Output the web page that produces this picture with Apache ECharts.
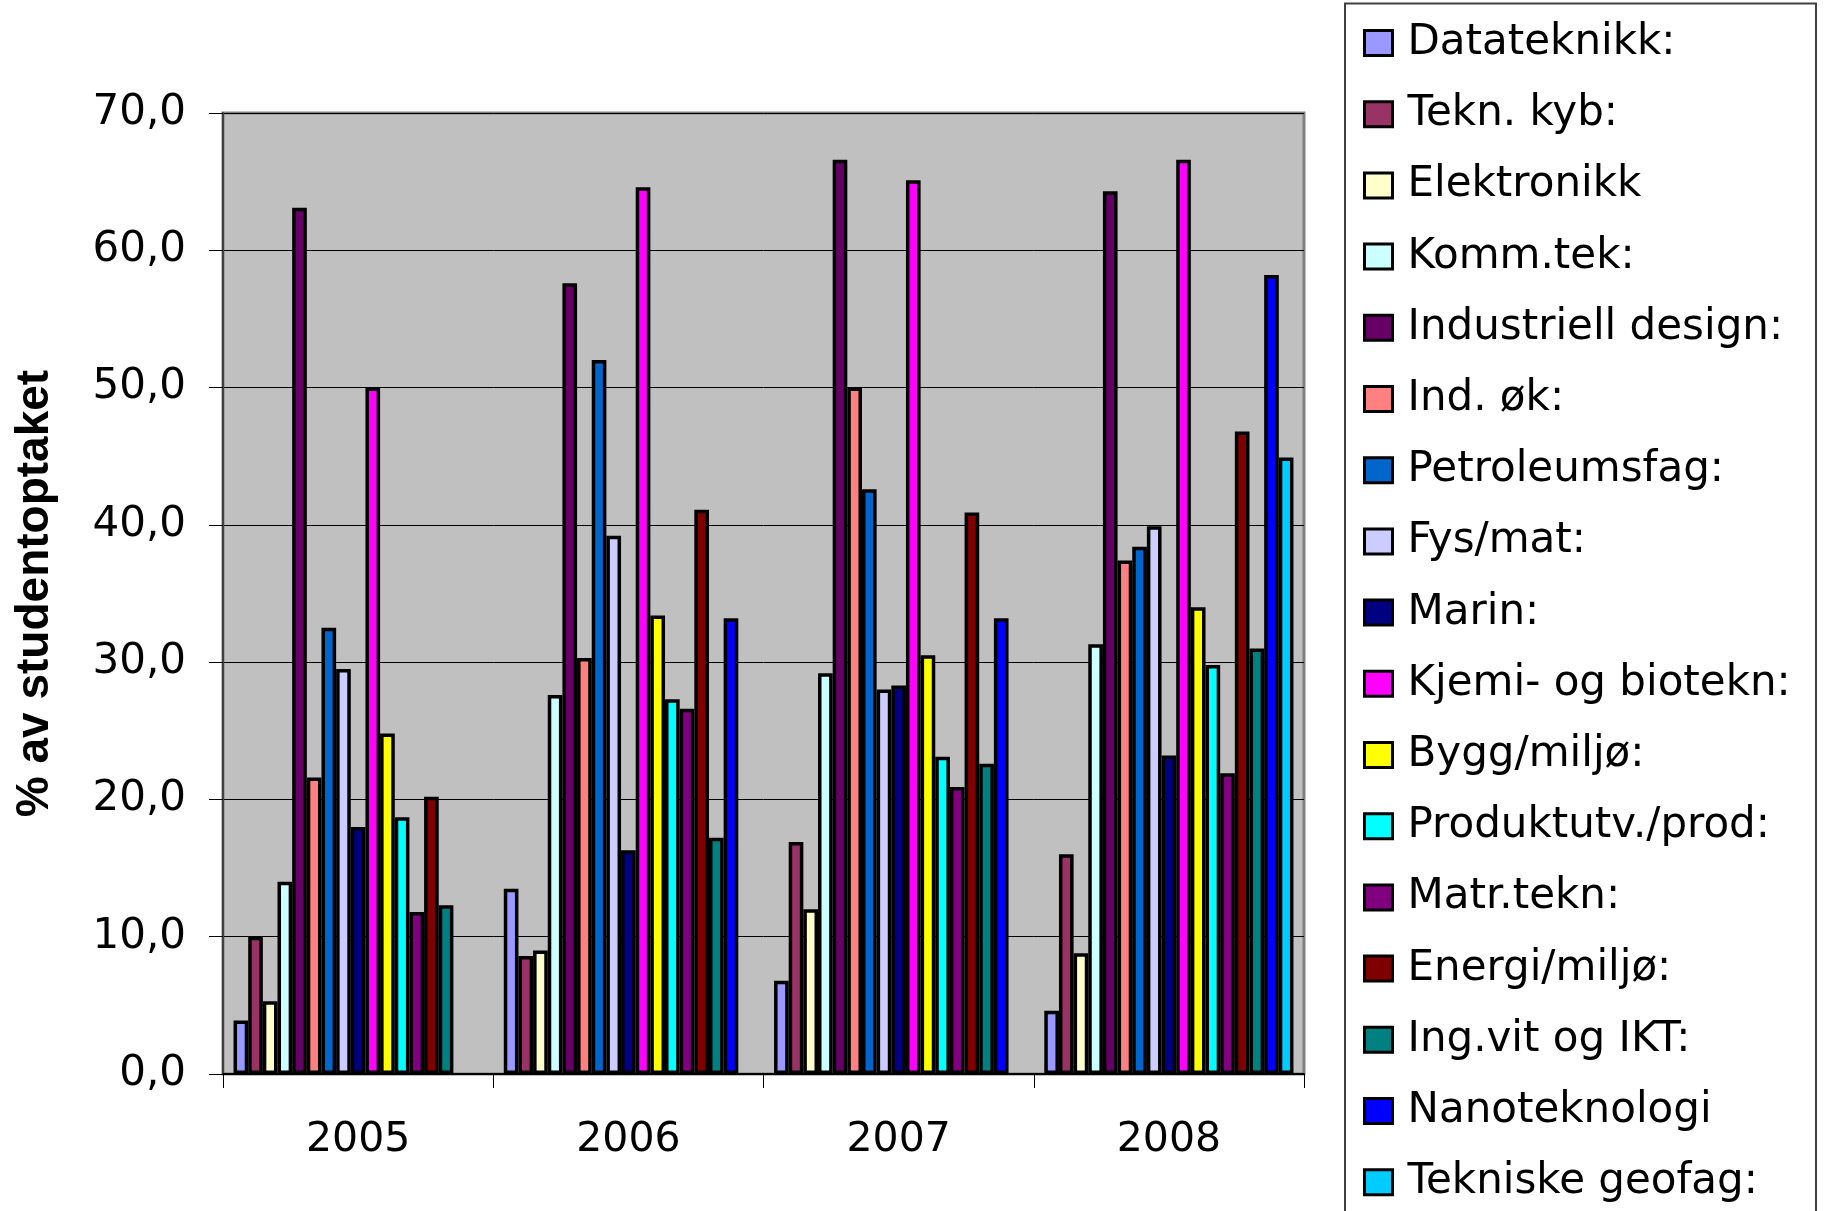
<!DOCTYPE html>
<html>
<head>
<meta charset="utf-8">
<script src="https://cdn.jsdelivr.net/npm/echarts@6/dist/echarts.min.js"></script>
<style>
html,body{margin:0;padding:0;background:#fff;}
#chart{width:1825px;height:1211px;}
</style>
</head>
<body>
<div id="chart"></div>
<script>
const categories = ['2005', '2006', '2007', '2008'];

const seriesNames = [
  'Datateknikk:', 'Tekn. kyb:', 'Elektronikk', 'Komm.tek:', 'Industriell design:',
  'Ind. øk:', 'Petroleumsfag:', 'Fys/mat:', 'Marin:', 'Kjemi- og biotekn:',
  'Bygg/miljø:', 'Produktutv./prod:', 'Matr.tekn:', 'Energi/miljø:', 'Ing.vit og IKT:',
  'Nanoteknologi', 'Tekniske geofag:'
];

const seriesColors = [
  '#9999FF', '#993366', '#FFFFCC', '#CCFFFF', '#660066',
  '#FF8080', '#0066CC', '#CCCCFF', '#000080', '#FF00FF',
  '#FFFF00', '#00FFFF', '#800080', '#800000', '#008080',
  '#0000FF', '#00CCFF'
];

// values per series, for 2005, 2006, 2007, 2008 (null = no bar)
const datateknikk   = [3.9, 13.5, 6.8, 4.6];
const teknKyb       = [10.0, 8.6, 16.9, 16.0];
const elektronikk   = [5.3, 9.0, 12.0, 8.8];
const kommTek       = [14.0, 27.6, 29.2, 31.3];
const industDesign  = [63.1, 57.6, 66.6, 64.3];
const indOk         = [21.6, 30.3, 50.0, 37.4];
const petroleum     = [32.5, 52.0, 42.6, 38.4];
const fysMat        = [29.5, 39.2, 28.0, 39.9];
const marin         = [18.0, 16.3, 28.3, 23.2];
const kjemi         = [50.0, 64.6, 65.1, 66.6];
const byggMiljo     = [24.8, 33.4, 30.5, 34.0];
const produktutv    = [18.7, 27.3, 23.1, 29.8];
const matrTekn      = [11.8, 26.6, 20.9, 21.9];
const energiMiljo   = [20.2, 41.1, 40.9, 46.8];
const ingVitIkt     = [12.3, 17.2, 22.6, 31.0];
const nanoteknologi = [null, 33.2, 33.2, 58.2];
const tekGeofag     = [null, null, null, 44.9];

const yTickValues = [0, 10, 20, 30, 40, 50, 60, 70];

const seriesValues = [
  datateknikk, teknKyb, elektronikk, kommTek, industDesign,
  indOk, petroleum, fysMat, marin, kjemi,
  byggMiljo, produktutv, matrTekn, energiMiljo, ingVitIkt,
  nanoteknologi, tekGeofag
];

const chart = echarts.init(document.getElementById('chart'), null, {renderer: 'canvas'});

const series = seriesNames.map((name, i) => ({
  name: name,
  type: 'bar',
  data: seriesValues[i].map(v => (v === null ? '-' : v)),
  barGap: '0%',
  barCategoryGap: '7.8%',
  itemStyle: {color: seriesColors[i], borderColor: '#000', borderWidth: 3.5},
  emphasis: {disabled: true}
}));

const option = {
  animation: false,
  backgroundColor: '#ffffff',
  grid: {
    left: 223, top: 113, width: 1081, height: 961,
    outerBoundsMode: 'none',
    containLabel: false,
    show: true, backgroundColor: '#C0C0C0', borderColor: '#808080', borderWidth: 3
  },
  xAxis: {
    type: 'category',
    data: categories,
    axisLine: {show: true, lineStyle: {color: '#000', width: 2}},
    axisTick: {show: true, length: 14, lineStyle: {color: '#000', width: 1}},
    axisLabel: {
      margin: 46, color: '#000', fontFamily: 'DejaVu Sans', fontSize: 41
    },
    splitLine: {show: false}
  },
  yAxis: {
    type: 'value',
    min: yTickValues[0],
    max: yTickValues[yTickValues.length - 1],
    interval: 10,
    name: '% av studentoptaket',
    nameLocation: 'middle',
    nameGap: 165,
    nameRotate: 90,
    nameTextStyle: {
      fontFamily: 'Liberation Sans', fontWeight: 'bold',
      fontSize: 46, color: '#000'
    },
    axisLine: {show: true, lineStyle: {color: '#404040', width: 2}},
    axisTick: {show: true, length: 14, lineStyle: {color: '#000', width: 1}},
    axisLabel: {
      margin: 37, color: '#000', fontFamily: 'DejaVu Sans', fontSize: 42,
      formatter: v => v.toFixed(1).replace('.', ',')
    },
    splitLine: {show: true, lineStyle: {color: '#000', width: 1}}
  },
  legend: {
    orient: 'vertical',
    left: 1363,
    top: 22,
    height: 1189,
    padding: 0,
    itemWidth: 28,
    itemHeight: 25,
    itemGap: 29.2,
    icon: 'rect',
    itemStyle: {borderColor: '#000', borderWidth: 3},
    textStyle: {
      fontFamily: 'DejaVu Sans', fontSize: 42, lineHeight: 42, color: '#000',
      padding: [0, 0, 0, 10]
    },
    selectedMode: false
  },
  graphic: [{
    type: 'rect',
    z: -1,
    shape: {x: 1345, y: 3.5, width: 471, height: 1240},
    style: {fill: '#fff', stroke: '#404040', lineWidth: 2}
  }],
  series: series
};

chart.setOption(option);
</script>
</body>
</html>
